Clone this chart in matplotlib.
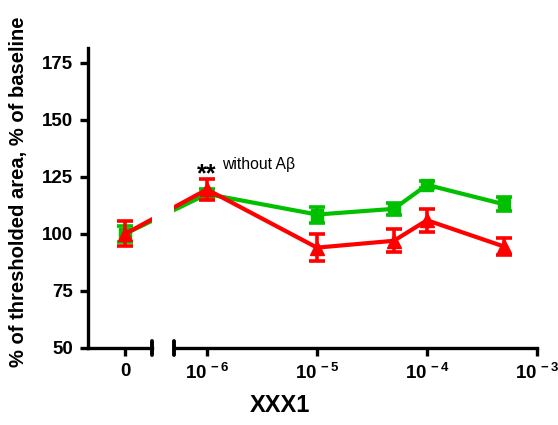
import numpy as np
import matplotlib
matplotlib.use("Agg")
import matplotlib.pyplot as plt

plt.rcParams['font.family'] = ['Liberation Sans', 'DejaVu Sans']
plt.rcParams['mathtext.fontset'] = 'custom'
plt.rcParams['mathtext.rm'] = 'Liberation Sans:bold'
plt.rcParams['mathtext.it'] = 'Liberation Sans:bold'
plt.rcParams['mathtext.bf'] = 'Liberation Sans:bold'

# ---- data ----
conc = [1e-6, 1e-5, 5e-5, 1e-4, 5e-4]
green_base, green_base_err = 100.0, 3.5
green_vals = [117.5, 108.5, 111.0, 121.5, 113.0]
green_err = [2.0, 3.5, 2.5, 1.5, 3.0]
red_base, red_base_err = 100.0, 5.5
red_vals = [119.5, 94.0, 97.0, 106.0, 94.5]
red_err = [4.6, 6.0, 5.0, 5.0, 3.7]
xticks_log = [1e-6, 1e-5, 1e-4, 1e-3]
xtick_labels = ['$10^{\\,-6}$', '$10^{\\,-5}$', '$10^{\\,-4}$', '$10^{\\,-3}$']
yticks = [50, 75, 100, 125, 150, 175]

GREEN = '#00C000'
RED = '#FF0000'
TICK_FS = 13.5

W, H = 558, 425
fig = plt.figure(figsize=(W / 100, H / 100), dpi=100)

def frac_x(px):
    return px / W

bottom = (H - 348) / H
top = (H - 48) / H
ax1 = fig.add_axes([frac_x(88), bottom, frac_x(152 - 88), top - bottom])
ax2 = fig.add_axes([frac_x(174), bottom, frac_x(537 - 174), top - bottom])

ylim = (50, 181.5)
for ax in (ax1, ax2):
    ax.set_ylim(*ylim)
    ax.patch.set_alpha(0)
    ax.spines['top'].set_visible(False)
    ax.spines['right'].set_visible(False)
    for s in ax.spines.values():
        s.set_linewidth(2.4)
    ax.tick_params(width=2.4, length=6, labelsize=TICK_FS, pad=5)

ax1.set_xlim(-1.0, 27 / 37)
ax2.set_xscale('log')
ax2.set_xlim(10 ** -6.3, 1e-3)
ax2.spines['left'].set_visible(False)
ax2.tick_params(axis='y', left=False, labelleft=False)
ax2.minorticks_off()

ax1.set_xticks([0])
ax1.set_xticklabels(['0'], fontweight='bold', fontsize=TICK_FS)
ax1.set_yticks(yticks)
ax1.set_yticklabels([str(v) for v in yticks], fontweight='bold', fontsize=TICK_FS)
ax2.set_xticks(xticks_log)
ax2.set_xticklabels(xtick_labels, fontsize=TICK_FS)
ax2.minorticks_off()

# break caps
for ax, xx in ((ax1, 1.0), (ax2, 0.0)):
    ax.plot([xx, xx], [-0.022, 0.022], transform=ax.transAxes, color='black',
            lw=2.8, clip_on=False, solid_capstyle='round')

lw = 3.0
eb_kw = dict(capsize=5.5, capthick=2.6, elinewidth=2.6)

def connector(base, first, color, z):
    fig.canvas.draw()
    disp_first = ax2.transData.transform((conc[0], first))
    disp_base = ax1.transData.transform((0, base))
    p_in_ax1 = ax1.transData.inverted().transform(disp_first)
    p_in_ax2 = ax2.transData.inverted().transform(disp_base)
    ax1.plot([0, p_in_ax1[0]], [base, p_in_ax1[1]], color=color, lw=lw, zorder=z)
    ax2.plot([p_in_ax2[0], conc[0]], [p_in_ax2[1], first], color=color, lw=lw, zorder=z)

# green
connector(green_base, green_vals[0], GREEN, 2)
ax1.errorbar([0], [green_base], yerr=[green_base_err], color=GREEN, marker='s',
             ms=8, lw=lw, zorder=2, **eb_kw)
ax2.errorbar(conc, green_vals, yerr=green_err, color=GREEN, marker='s',
             ms=8, lw=lw, zorder=2, **eb_kw)
# red
connector(red_base, red_vals[0], RED, 3)
ax1.errorbar([0], [red_base], yerr=[red_base_err], color=RED, marker='^',
             ms=10, lw=lw, zorder=3, **eb_kw)
ax2.errorbar(conc, red_vals, yerr=red_err, color=RED, marker='^',
             ms=10, lw=lw, zorder=3, **eb_kw)

# annotation
ax2.text(1e-6, 123.0, '**', ha='center', va='baseline', fontsize=18, fontweight='bold')
ax2.text(10 ** -5.86, 128.5, 'without A\u03b2', ha='left', va='baseline', fontsize=11.3)

# labels
fig.text(19 / W, 1 - 192 / H, '% of thresholded area, % of baseline', rotation=90,
         ha='center', va='center', fontsize=14.5, fontweight='bold')
fig.text(280 / W, 1 - 406 / H, 'XXX1', ha='center', va='center', fontsize=17,
         fontweight='bold')

fig.savefig('out.png', dpi=100)
